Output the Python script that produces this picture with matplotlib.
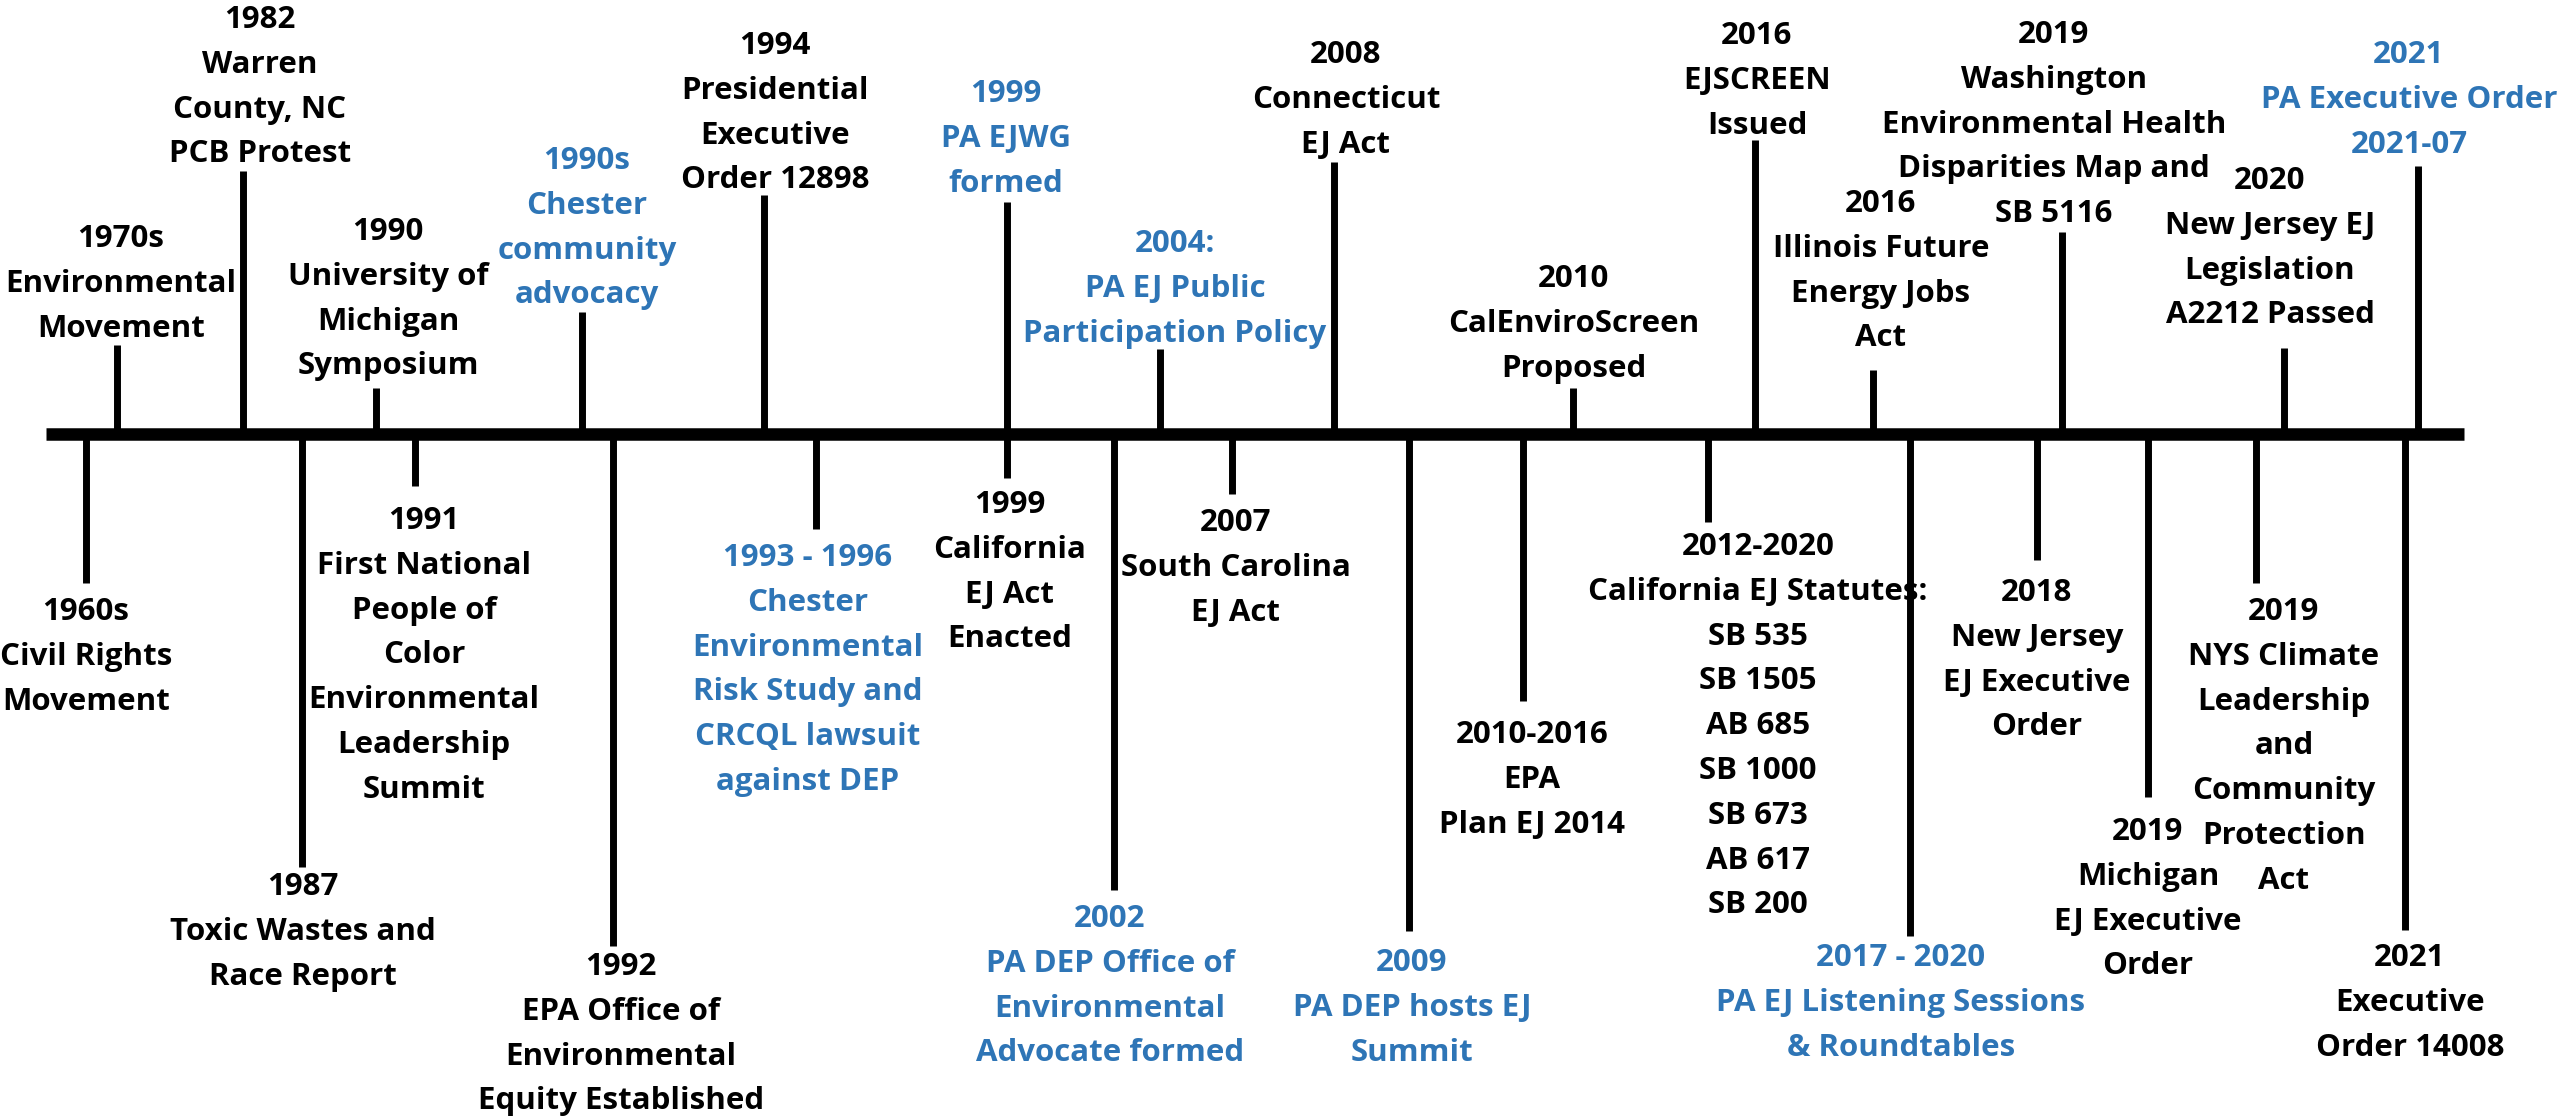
import matplotlib.pyplot as plt

BLACK = '#000000'
BLUE = '#2E75B6'

# events drawn above the timeline
up_labels = [
    "1970s\nEnvironmental\nMovement",
    "1982\nWarren\nCounty, NC\nPCB Protest",
    "1990\nUniversity of\nMichigan\nSymposium",
    "1990s\nChester\ncommunity\nadvocacy",
    "1994\nPresidential\nExecutive\nOrder 12898",
    "1999\nPA EJWG\nformed",
    "2004:\nPA EJ Public\nParticipation Policy",
    "2008\nConnecticut\nEJ Act",
    "2010\nCalEnviroScreen\nProposed",
    "2016\nEJSCREEN\nIssued",
    "2016\nIllinois Future\nEnergy Jobs\nAct",
    "2019\nWashington\nEnvironmental Health\nDisparities Map and\nSB 5116",
    "2020\nNew Jersey EJ\nLegislation\nA2212 Passed",
    "2021\nPA Executive Order\n2021-07",
]
up_pa = [False, False, False, True, False, True, True, False, False, False, False, False, False, True]

# events drawn below the timeline
down_labels = [
    "1960s\nCivil Rights\nMovement",
    "1987\nToxic Wastes and\nRace Report",
    "1991\nFirst National\nPeople of\nColor\nEnvironmental\nLeadership\nSummit",
    "1992\nEPA Office of\nEnvironmental\nEquity Established",
    "1993 - 1996\nChester\nEnvironmental\nRisk Study and\nCRCQL lawsuit\nagainst DEP",
    "1999\nCalifornia\nEJ Act\nEnacted",
    "2002\nPA DEP Office of\nEnvironmental\nAdvocate formed",
    "2007\nSouth Carolina\nEJ Act",
    "2009\nPA DEP hosts EJ\nSummit",
    "2010-2016\nEPA\nPlan EJ 2014",
    "2012-2020\nCalifornia EJ Statutes:\nSB 535\nSB 1505\nAB 685\nSB 1000\nSB 673\nAB 617\nSB 200",
    "2017 - 2020\nPA EJ Listening Sessions\n& Roundtables",
    "2018\nNew Jersey\nEJ Executive\nOrder",
    "2019\nMichigan\nEJ Executive\nOrder",
    "2019\nNYS Climate\nLeadership\nand\nCommunity\nProtection\nAct",
    "2021\nExecutive\nOrder 14008",
]
down_pa = [False, False, False, False, True, False, True, False, True, False, False, True, False, False, False, False]

# layout (pixel units of the canvas)
up_x = [117, 243, 376, 582, 764, 1007, 1160, 1334, 1573, 1755, 1873, 2062, 2284, 2418]
up_end = [345, 171, 388, 312, 195, 202, 349, 162, 388, 140, 370, 232, 348, 166]
up_tx = [121, 260, 388, 587, 775, 1006, 1175, 1346, 1574, 1757, 1881, 2054, 2270, 2409]
up_ty = [239, 20, 232, 161, 46, 94, 244, 55, 279, 36, 204, 35, 181, 55]

down_x = [86, 302, 415, 613, 816, 1007, 1114, 1232, 1409, 1523, 1708, 1910, 2037, 2148, 2256, 2405]
down_end = [583, 867, 486, 946, 529, 478, 890, 494, 931, 701, 522, 936, 560, 797, 583, 930]
down_tx = [86, 303, 424, 621, 808, 1010, 1110, 1236, 1412, 1532, 1758, 1901, 2037, 2148, 2284, 2410]
down_ty = [612, 887, 521, 967, 558, 505, 919, 523, 963, 735, 547, 958, 593, 832, 612, 958]

W, H = 2557, 1119
AXIS_Y = 434
STEP = 44.8

fig = plt.figure(figsize=(W / 100, H / 100), dpi=100)
ax = fig.add_axes([0, 0, 1, 1])
ax.set_xlim(0, W)
ax.set_ylim(H, 0)
ax.axis('off')

ax.plot([46, 2464], [AXIS_Y, AXIS_Y], color=BLACK, lw=9, solid_capstyle='butt', zorder=3)


def draw(xs, ends, txs, tys, labels, pa):
    for x, e, tx, ty, lab, p in zip(xs, ends, txs, tys, labels, pa):
        ax.plot([x, x], [AXIS_Y, e], color=BLACK, lw=5, solid_capstyle='butt', zorder=2)
        c = BLUE if p else BLACK
        for i, line in enumerate(lab.split('\n')):
            ax.text(tx, ty + i * STEP, line, ha='center', va='center', color=c,
                    fontsize=22.5, fontweight='bold', family='Open Sans')


draw(up_x, up_end, up_tx, up_ty, up_labels, up_pa)
draw(down_x, down_end, down_tx, down_ty, down_labels, down_pa)

fig.savefig('out.png', dpi=100)
